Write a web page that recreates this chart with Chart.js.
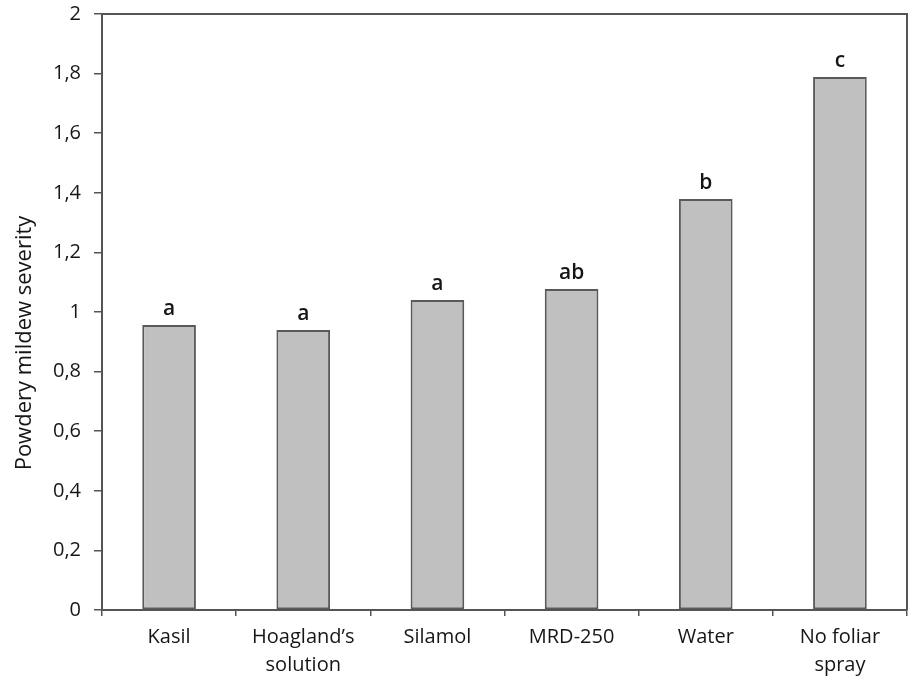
<!DOCTYPE html>
<html>
<head>
<meta charset="utf-8">
<script src="https://cdn.jsdelivr.net/npm/chart.js@4"></script>
<style>
  html, body { margin: 0; padding: 0; background: #fff; }
  #wrap { width: 909px; height: 676px; position: relative; }
</style>
</head>
<body>
<div id="wrap"><canvas id="grafico"></canvas></div>
<script>
// dados
const categorias = ['Kasil', ["Hoagland\u2019s", 'solution'], 'Silamol', 'MRD-250', 'Water', ['No foliar', 'spray']];
const severidade = [0.956, 0.94, 1.04, 1.077, 1.379, 1.789];
const letras = ['a', 'a', 'a', 'ab', 'b', 'c'];
const yMin = 0, yMax = 2, yPasso = 0.2;
const tituloY = 'Powdery mildew severity';

const fonte = "'Open Sans', 'Noto Sans', sans-serif";
const corEixo = '#555';
const corTexto = '#161616';

// letras de significância, título do eixo y e moldura superior/direita
const pluginLetras = {
    id: 'letras',
    afterDatasetsDraw(chart) {
        const ctx = chart.ctx;
        const meta = chart.getDatasetMeta(0);
        ctx.save();
        ctx.fillStyle = corTexto;
        ctx.font = '600 21px ' + fonte;
        ctx.textAlign = 'center';
        ctx.textBaseline = 'alphabetic';
        meta.data.forEach((barra, i) => {
            ctx.fillText(letras[i], barra.x, barra.y - 10);
        });

        // título do eixo y (um pouco abaixo do centro, como no original)
        ctx.save();
        ctx.font = '22px ' + fonte;
        ctx.textBaseline = 'middle';
        ctx.translate(25, 343);
        ctx.rotate(-Math.PI / 2);
        ctx.fillText(tituloY, 0, 0);
        ctx.restore();

        const a = chart.chartArea;
        ctx.strokeStyle = corEixo;
        ctx.lineWidth = 2;
        ctx.beginPath();
        ctx.moveTo(a.left, a.top);
        ctx.lineTo(a.right, a.top);
        ctx.lineTo(a.right, a.bottom);
        ctx.stroke();
        ctx.restore();
    }
};

new Chart(document.getElementById('grafico'), {
    type: 'bar',
    data: {
        labels: categorias,
        datasets: [{
            data: severidade,
            backgroundColor: '#c0c0c0',
            borderColor: '#5a5a5a',
            borderWidth: 2,
            borderSkipped: false,
            barPercentage: 0.4,
            categoryPercentage: 1
        }]
    },
    options: {
        responsive: true,
        maintainAspectRatio: false,
        animation: false,
        layout: { padding: { top: 14, right: 2, left: 0, bottom: 0 } },
        plugins: {
            legend: { display: false },
            tooltip: { enabled: false }
        },
        scales: {
            x: {
                grid: {
                    offset: true,
                    drawOnChartArea: false,
                    drawTicks: true,
                    tickLength: 6,
                    color: corEixo,
                    lineWidth: 1.5
                },
                border: { color: corEixo, width: 2 },
                ticks: {
                    color: corTexto,
                    font: { family: fonte, size: 20, lineHeight: 1.4 },
                    maxRotation: 0,
                    padding: 7
                },
                afterFit(scale) {
                    scale.height = 66;
                    scale.paddingLeft = 0;
                    scale.paddingRight = 0;
                }
            },
            y: {
                min: yMin,
                max: yMax,
                grid: {
                    drawOnChartArea: false,
                    drawTicks: true,
                    tickLength: 8,
                    color: corEixo,
                    lineWidth: 1.5
                },
                border: { color: corEixo, width: 2 },
                ticks: {
                    stepSize: yPasso,
                    color: corTexto,
                    font: { family: fonte, size: 20 },
                    padding: 13,
                    callback: v => String(Math.round(v * 10) / 10).replace('.', ',')
                },
                afterFit(scale) {
                    scale.width = 102;
                    scale.paddingTop = 0;
                    scale.paddingBottom = 0;
                }
            }
        }
    },
    plugins: [pluginLetras]
});
</script>
</body>
</html>
